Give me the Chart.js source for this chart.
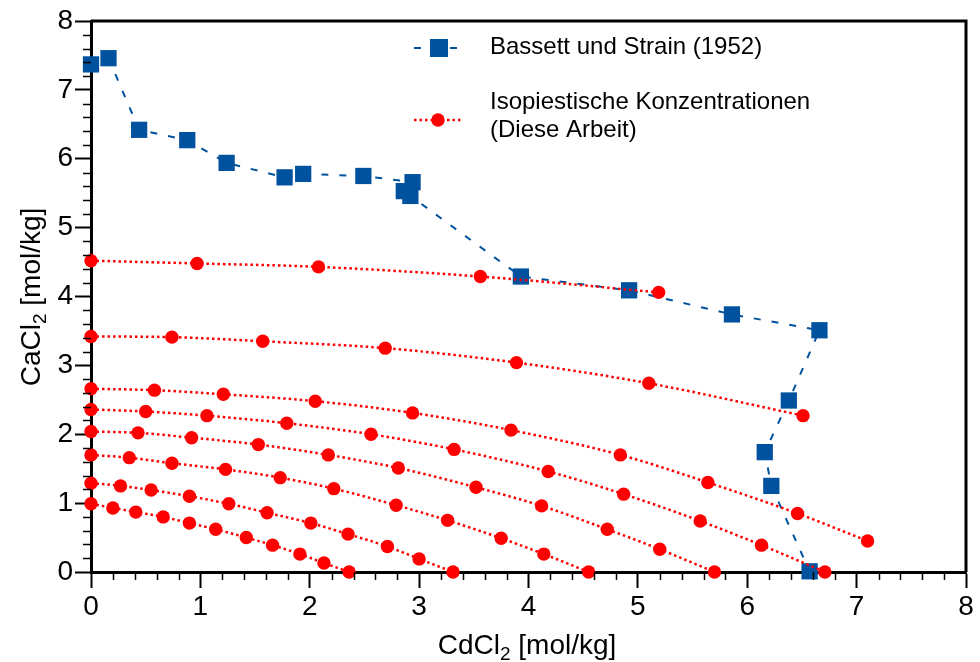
<!DOCTYPE html>
<html>
<head>
<meta charset="utf-8">
<script src="https://cdn.jsdelivr.net/npm/chart.js@4/dist/chart.umd.min.js"></script>
<style>
	body { margin: 0; background: #fff; }
	#wrap { width: 980px; height: 662px; }
</style>
</head>
<body>
<div id="wrap"><canvas id="chart" width="980" height="662"></canvas></div>
<script>
"use strict";

// Bassett und Strain (1952)
const bassettX = [0, 0.16, 0.44, 0.88, 1.24, 1.77, 1.94, 2.49, 2.94, 2.86, 2.92, 3.93, 4.92, 5.86, 6.66, 6.38, 6.16, 6.22, 6.57];
const bassettY = [7.37, 7.46, 6.42, 6.27, 5.94, 5.73, 5.78, 5.75, 5.66, 5.53, 5.46, 4.29, 4.09, 3.74, 3.51, 2.49, 1.74, 1.25, 0.01];

// Isopiestische Konzentrationen (Diese Arbeit)
const iso1X = [0, 0.97, 2.08, 3.56, 5.19];
const iso1Y = [4.52, 4.48, 4.43, 4.29, 4.06];
const iso2X = [0, 0.74, 1.57, 2.69, 3.89, 5.10, 6.51];
const iso2Y = [3.42, 3.41, 3.35, 3.25, 3.04, 2.74, 2.27];
const iso3X = [0, 0.58, 1.21, 2.05, 2.94, 3.84, 4.84, 5.64, 6.46, 7.10];
const iso3Y = [2.66, 2.64, 2.58, 2.48, 2.31, 2.06, 1.70, 1.30, 0.85, 0.45];
const iso4X = [0, 0.50, 1.06, 1.79, 2.56, 3.32, 4.18, 4.87, 5.57, 6.13, 6.71];
const iso4Y = [2.36, 2.33, 2.27, 2.16, 2.00, 1.78, 1.46, 1.13, 0.74, 0.39, 0];
const iso5X = [0, 0.43, 0.92, 1.53, 2.17, 2.81, 3.52, 4.12, 4.72, 5.20, 5.70];
const iso5Y = [2.04, 2.02, 1.95, 1.85, 1.70, 1.51, 1.23, 0.96, 0.62, 0.33, 0];
const iso6X = [0, 0.35, 0.74, 1.23, 1.73, 2.22, 2.79, 3.26, 3.75, 4.14, 4.55];
const iso6Y = [1.70, 1.66, 1.58, 1.49, 1.37, 1.21, 0.97, 0.75, 0.49, 0.26, 0];
const iso7X = [0, 0.27, 0.55, 0.90, 1.26, 1.61, 2.01, 2.35, 2.71, 3.00, 3.31];
const iso7Y = [1.29, 1.25, 1.19, 1.10, 0.99, 0.86, 0.71, 0.55, 0.37, 0.19, 0];
const iso8X = [0, 0.20, 0.41, 0.66, 0.90, 1.14, 1.42, 1.66, 1.91, 2.13, 2.36];
const iso8Y = [0.99, 0.93, 0.87, 0.80, 0.71, 0.62, 0.50, 0.39, 0.26, 0.13, 0];

const axisTicks = [0, 1, 2, 3, 4, 5, 6, 7, 8];

const BLUE = "#00529f";
const RED = "#ff0000";
const FONT = "'Liberation Sans', Arial, sans-serif";

function pairs(xs, ys) {
	return xs.map((x, i) => ({ x: x, y: ys[i] }));
}

let datasets = [
	{
		label: "Bassett und Strain (1952)",
		data: pairs(bassettX, bassettY),
		showLine: true,
		borderColor: BLUE,
		backgroundColor: BLUE,
		borderWidth: 2,
		borderDash: [7, 11],
		pointStyle: "rect",
		pointRadius: 11.5,
		pointBorderWidth: 0,
		tension: 0,
		clip: false,
		order: 1,
	},
];

let isoLines = [
	[iso1X, iso1Y], [iso2X, iso2Y], [iso3X, iso3Y], [iso4X, iso4Y],
	[iso5X, iso5Y], [iso6X, iso6Y], [iso7X, iso7Y], [iso8X, iso8Y],
];
for (let [xs, ys] of isoLines) {
	datasets.push({
		label: "Isopiestische Konzentrationen",
		data: pairs(xs, ys),
		showLine: true,
		borderColor: RED,
		backgroundColor: RED,
		borderWidth: 2.5,
		borderDash: [2.5, 3],
		pointStyle: "circle",
		pointRadius: 6.7,
		pointBorderWidth: 0,
		cubicInterpolationMode: "monotone",
		clip: false,
		order: 0,
	});
}

// minor ticks, frame, axis titles and legend
const decorations = {
	id: "decorations",
	afterDraw(chart) {
		let ctx = chart.ctx;
		let a = chart.chartArea;
		let xs = chart.scales.x;
		let ys = chart.scales.y;
		ctx.save();
		ctx.strokeStyle = "#000";
		ctx.lineWidth = 1.5;
		for (let i = 1; i < 40; i++) {
			if (i % 5 === 0) continue;
			let v = i * 0.2;
			let px = Math.round(xs.getPixelForValue(v)) + 0.5;
			ctx.beginPath();
			ctx.moveTo(px, a.bottom);
			ctx.lineTo(px, a.bottom + 8);
			ctx.stroke();
			let py = Math.round(ys.getPixelForValue(v)) + 0.5;
			ctx.beginPath();
			ctx.moveTo(a.left, py);
			ctx.lineTo(a.left - 8, py);
			ctx.stroke();
		}
		// frame top and right
		ctx.lineWidth = 3;
		ctx.beginPath();
		ctx.moveTo(a.left, a.top);
		ctx.lineTo(a.right, a.top);
		ctx.lineTo(a.right, a.bottom);
		ctx.stroke();

		// axis titles with subscripts
		ctx.fillStyle = "#000";
		ctx.textBaseline = "alphabetic";
		let drawTitle = (x, y) => {
			let big = "28px " + FONT;
			let small = "19px " + FONT;
			ctx.font = big;
			let w1 = ctx.measureText("CdCl").width;
			let w3 = ctx.measureText(" [mol/kg]").width;
			ctx.font = small;
			let w2 = ctx.measureText("2").width;
			let start = x - (w1 + w2 + w3) / 2;
			ctx.textAlign = "left";
			ctx.font = big;
			ctx.fillText("CdCl", start, y);
			ctx.font = small;
			ctx.fillText("2", start + w1, y + 6);
			ctx.font = big;
			ctx.fillText(" [mol/kg]", start + w1 + w2, y);
		};
		drawTitle(527, 654);

		ctx.save();
		ctx.translate(40, 297);
		ctx.rotate(-Math.PI / 2);
		let big = "28px " + FONT;
		let small = "19px " + FONT;
		ctx.font = big;
		let w1 = ctx.measureText("CaCl").width;
		let w3 = ctx.measureText(" [mol/kg]").width;
		ctx.font = small;
		let w2 = ctx.measureText("2").width;
		let start = -(w1 + w2 + w3) / 2;
		ctx.textAlign = "left";
		ctx.font = big;
		ctx.fillText("CaCl", start, 0);
		ctx.font = small;
		ctx.fillText("2", start + w1, 6);
		ctx.font = big;
		ctx.fillText(" [mol/kg]", start + w1 + w2, 0);
		ctx.restore();

		// legend
		ctx.lineWidth = 2;
		ctx.strokeStyle = BLUE;
		ctx.setLineDash([7, 11]);
		ctx.beginPath();
		ctx.moveTo(414, 48);
		ctx.lineTo(464, 48);
		ctx.stroke();
		ctx.fillStyle = BLUE;
		ctx.fillRect(430, 39, 18, 18);
		ctx.strokeStyle = RED;
		ctx.lineWidth = 2.5;
		ctx.setLineDash([2.5, 3]);
		ctx.beginPath();
		ctx.moveTo(414, 120);
		ctx.lineTo(463, 120);
		ctx.stroke();
		ctx.setLineDash([]);
		ctx.fillStyle = RED;
		ctx.beginPath();
		ctx.arc(438, 120, 6.7, 0, Math.PI * 2);
		ctx.fill();

		ctx.fillStyle = "#000";
		ctx.font = "24px " + FONT;
		ctx.textAlign = "left";
		ctx.textBaseline = "middle";
		ctx.fillText("Bassett und Strain (1952)", 490, 47);
		ctx.fillText("Isopiestische Konzentrationen", 490, 102);
		ctx.fillText("(Diese Arbeit)", 490, 130);
		ctx.restore();
	},
};

let axisCommon = {
	type: "linear",
	min: 0,
	max: 8,
	afterBuildTicks: (scale) => {
		scale.ticks = axisTicks.map((v) => ({ value: v }));
	},
	ticks: {
		color: "#000",
		font: { size: 28, family: FONT },
		padding: 2,
	},
	grid: {
		drawOnChartArea: false,
		drawTicks: true,
		tickLength: 16,
		tickColor: "#000",
		tickWidth: 2,
	},
	border: { color: "#000", width: 3 },
};

let ctx = document.getElementById("chart").getContext("2d");
new Chart(ctx, {
	type: "scatter",
	data: { datasets: datasets },
	options: {
		responsive: false,
		animation: false,
		layout: { padding: { top: 21, right: 14, left: 0, bottom: 0 } },
		plugins: {
			legend: { display: false },
			tooltip: { enabled: false },
		},
		scales: {
			x: Object.assign({}, axisCommon, {
				position: "bottom",
				afterFit: (scale) => { scale.height = 90; },
			}),
			y: Object.assign({}, axisCommon, {
				position: "left",
				afterFit: (scale) => { scale.width = 91; },
			}),
		},
	},
	plugins: [decorations],
});
</script>
</body>
</html>
